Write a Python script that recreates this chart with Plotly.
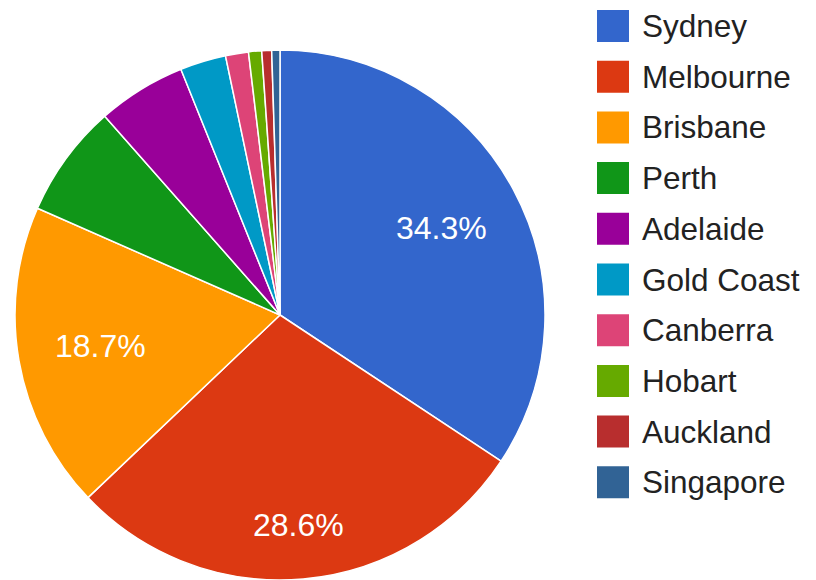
import math
import plotly.graph_objects as go

cities = ["Sydney", "Melbourne", "Brisbane", "Perth", "Adelaide",
          "Gold Coast", "Canberra", "Hobart", "Auckland", "Singapore"]
shares = [34.3, 28.6, 18.7, 6.9, 5.4, 2.8, 1.4, 0.8, 0.6, 0.5]
colors = ["#3366cc", "#dc3912", "#ff9900", "#109618", "#990099",
          "#0099c6", "#dd4477", "#66aa00", "#b82e2e", "#316395"]

W, H = 816, 580
T = 50                      # top margin
PH = H - T                  # plot-area height
FONT = "Liberation Sans, Arial, sans-serif"
LABEL_MIN = 10              # slices below this share get no text

# pie geometry implied by the domain below
cx, cy = 280.0, T + PH / 2.0
r = PH / 2.0

fig = go.Figure(go.Pie(
    labels=cities,
    values=shares,
    sort=False,
    direction="clockwise",
    rotation=0,
    textinfo="none",
    marker=dict(colors=colors, line=dict(color="white", width=1.5)),
    domain=dict(x=[0, 560 / W], y=[0, 1]),
    showlegend=False,
    hoverinfo="label+percent",
))

def px_to_paper(xp, yp):
    return xp / W, (H - yp) / PH

annos, shapes = [], []

# slice percentage labels, placed along each slice bisector
total = sum(shares)
cum = 0.0
tw, th = 89.0, 19.0
Rout = 0.86 * r
for v in shares:
    mid = (cum + v / 2) / total * 2 * math.pi
    cum += v
    if v < LABEL_MIN:
        continue
    ux, uy = math.sin(mid), -math.cos(mid)
    c = (math.copysign(tw / 2, ux), math.copysign(th / 2, uy))
    uc = ux * c[0] + uy * c[1]
    d = -uc + math.sqrt(uc * uc - (c[0] ** 2 + c[1] ** 2) + Rout ** 2)
    x, y = px_to_paper(cx + d * ux, cy + d * uy)
    annos.append(dict(xref="paper", yref="paper", x=x, y=y,
                      xanchor="center", yanchor="middle", showarrow=False,
                      text=f"{v / total * 100:.1f}%",
                      font=dict(size=32, color="white", family=FONT)))

# legend: colour squares + labels
row0, step = 26, 50.7
for i, (name, col) in enumerate(zip(cities, colors)):
    yc = row0 + i * step
    x0, y0 = px_to_paper(597, yc - 16)
    x1, y1 = px_to_paper(629, yc + 16)
    shapes.append(dict(type="rect", xref="paper", yref="paper",
                       x0=x0, x1=x1, y0=y1, y1=y0,
                       fillcolor=col, line=dict(width=0)))
    tx, ty = px_to_paper(640, yc)
    annos.append(dict(xref="paper", yref="paper", x=tx, y=ty,
                      xanchor="left", yanchor="middle", showarrow=False,
                      text=name, font=dict(size=31.5, color="#222222", family=FONT)))

fig.update_layout(
    width=W, height=H,
    margin=dict(l=0, r=0, t=T, b=0),
    paper_bgcolor="white", plot_bgcolor="white",
    shapes=shapes, annotations=annos,
    font=dict(family=FONT),
)

fig.write_html("out.html",
               config={"displayModeBar": False},
               post_script="document.body.style.margin='0';document.body.style.overflow='hidden';")
